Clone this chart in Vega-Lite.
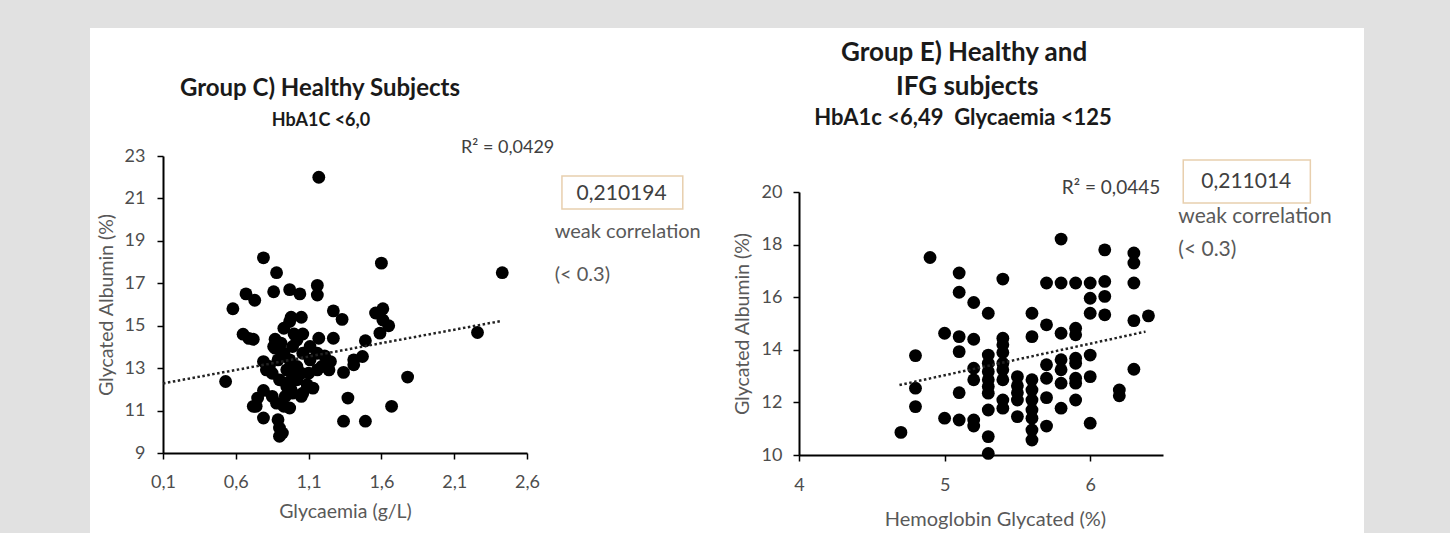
{
  "$schema": "https://vega.github.io/schema/vega-lite/v6.json",
  "width": 1274,
  "height": 505,
  "autosize": {"type": "none"},
  "padding": {"left": 90, "top": 28, "right": 86, "bottom": 0},
  "background": "#e1e1e1",
  "config": {
    "font": "Lato",
    "view": {"fill": "white", "stroke": null},
    "axis": {
      "domainColor": "#000000", "domainWidth": 2, "tickColor": "#000000", "tickWidth": 1.5, "tickSize": 6,
      "labelColor": "#4d4d4d", "labelFontSize": 18, "titleColor": "#595959", "titleFontSize": 19.5,
      "titleFontWeight": "normal", "grid": false, "labelFlush": false, "labelOverlap": false, "zindex": 1
    },
    "text": {"font": "Lato"}
  },
  "datasets": {
    "left": [
      {"x":1.17,"y":22.0},{"x":0.79,"y":18.2},{"x":0.88,"y":17.5},{"x":1.6,"y":17.95},{"x":2.43,"y":17.5},
      {"x":0.58,"y":15.8},{"x":0.67,"y":16.5},{"x":0.73,"y":16.2},{"x":0.86,"y":16.6},{"x":0.97,"y":16.7},
      {"x":1.04,"y":16.5},{"x":1.16,"y":16.9},{"x":1.16,"y":16.45},{"x":0.98,"y":15.4},{"x":1.05,"y":15.4},
      {"x":1.27,"y":15.7},{"x":1.33,"y":15.3},{"x":1.56,"y":15.6},{"x":1.61,"y":15.8},{"x":1.61,"y":15.27},
      {"x":1.65,"y":15.0},{"x":1.59,"y":14.65},{"x":2.26,"y":14.68},{"x":0.65,"y":14.6},{"x":0.69,"y":14.4},
      {"x":0.72,"y":14.36},{"x":0.87,"y":14.36},{"x":0.87,"y":13.94},{"x":0.93,"y":14.88},{"x":0.97,"y":15.2},
      {"x":1.0,"y":14.61},{"x":1.06,"y":14.61},{"x":1.17,"y":14.41},{"x":1.27,"y":14.41},{"x":1.49,"y":14.29},
      {"x":1.16,"y":13.7},{"x":1.21,"y":13.58},{"x":1.11,"y":13.39},{"x":1.19,"y":13.08},{"x":1.24,"y":12.92},
      {"x":0.79,"y":13.31},{"x":0.83,"y":13.08},{"x":0.85,"y":12.76},{"x":0.89,"y":13.39},{"x":0.93,"y":13.7},
      {"x":0.95,"y":12.92},{"x":0.97,"y":13.39},{"x":1.02,"y":13.08},{"x":1.05,"y":12.76},{"x":1.06,"y":13.7},
      {"x":1.11,"y":14.02},{"x":1.1,"y":12.76},{"x":0.9,"y":12.45},{"x":0.97,"y":12.37},{"x":1.02,"y":12.45},
      {"x":1.09,"y":12.22},{"x":1.13,"y":12.06},{"x":0.98,"y":11.98},{"x":1.05,"y":11.67},{"x":0.79,"y":11.95},
      {"x":0.75,"y":11.59},{"x":0.74,"y":11.2},{"x":0.79,"y":10.65},{"x":0.88,"y":11.35},{"x":0.93,"y":11.2},
      {"x":0.97,"y":11.12},{"x":0.89,"y":10.57},{"x":0.9,"y":10.18},{"x":0.9,"y":9.79},{"x":0.92,"y":9.94},
      {"x":1.34,"y":12.8},{"x":1.41,"y":13.39},{"x":1.41,"y":13.16},{"x":1.47,"y":13.55},{"x":1.37,"y":11.59},
      {"x":1.34,"y":10.5},{"x":1.49,"y":10.5},{"x":1.67,"y":11.2},{"x":1.78,"y":12.58},{"x":0.53,"y":12.37},
      {"x":0.86,"y":14.02},{"x":0.91,"y":14.18},{"x":0.99,"y":14.02},{"x":1.02,"y":14.33},{"x":0.81,"y":12.92},
      {"x":0.99,"y":12.92},{"x":0.95,"y":12.14},{"x":1.06,"y":11.82},{"x":0.94,"y":11.67},{"x":1.25,"y":13.31},
      {"x":1.16,"y":12.92},{"x":0.99,"y":11.82},{"x":0.85,"y":11.67},{"x":0.72,"y":11.2}
    ],
    "leftTrend": [{"x":0.1,"y":12.28},{"x":2.43,"y":15.23}],
    "right": [
      {"x":4.7,"y":10.86},{"x":4.8,"y":13.78},{"x":4.8,"y":12.54},{"x":4.8,"y":11.84},{"x":4.9,"y":17.51},
      {"x":5.0,"y":14.63},{"x":5.0,"y":11.4},{"x":5.1,"y":16.92},{"x":5.1,"y":16.19},{"x":5.1,"y":14.5},
      {"x":5.1,"y":13.93},{"x":5.1,"y":12.37},{"x":5.1,"y":11.33},{"x":5.2,"y":15.8},{"x":5.2,"y":14.4},
      {"x":5.2,"y":13.3},{"x":5.2,"y":12.86},{"x":5.2,"y":11.33},{"x":5.2,"y":11.1},{"x":5.3,"y":15.39},
      {"x":5.3,"y":13.8},{"x":5.3,"y":13.49},{"x":5.3,"y":13.17},{"x":5.3,"y":12.86},{"x":5.3,"y":12.6},
      {"x":5.3,"y":12.35},{"x":5.3,"y":11.71},{"x":5.3,"y":10.7},{"x":5.3,"y":10.06},{"x":5.4,"y":16.69},
      {"x":5.4,"y":14.44},{"x":5.4,"y":14.19},{"x":5.4,"y":13.9},{"x":5.4,"y":13.49},{"x":5.4,"y":13.24},
      {"x":5.4,"y":12.86},{"x":5.4,"y":12.09},{"x":5.4,"y":11.78},{"x":5.5,"y":12.98},{"x":5.5,"y":12.63},
      {"x":5.5,"y":12.37},{"x":5.5,"y":12.09},{"x":5.5,"y":11.46},{"x":5.6,"y":15.39},{"x":5.6,"y":14.5},
      {"x":5.6,"y":12.86},{"x":5.6,"y":12.47},{"x":5.6,"y":12.09},{"x":5.6,"y":11.71},{"x":5.6,"y":11.4},
      {"x":5.6,"y":10.95},{"x":5.6,"y":10.57},{"x":5.7,"y":16.54},{"x":5.7,"y":14.95},{"x":5.7,"y":13.43},
      {"x":5.7,"y":12.92},{"x":5.7,"y":12.18},{"x":5.7,"y":11.1},{"x":5.8,"y":18.21},{"x":5.8,"y":16.54},
      {"x":5.8,"y":14.63},{"x":5.8,"y":13.62},{"x":5.8,"y":13.24},{"x":5.8,"y":12.73},{"x":5.8,"y":11.78},
      {"x":5.9,"y":16.54},{"x":5.9,"y":14.82},{"x":5.9,"y":14.57},{"x":5.9,"y":13.68},{"x":5.9,"y":13.49},
      {"x":5.9,"y":12.92},{"x":5.9,"y":12.73},{"x":5.9,"y":12.09},{"x":6.0,"y":16.54},{"x":6.0,"y":15.96},
      {"x":6.0,"y":15.39},{"x":6.0,"y":13.8},{"x":6.0,"y":12.98},{"x":6.0,"y":11.21},{"x":6.1,"y":17.8},
      {"x":6.1,"y":16.6},{"x":6.1,"y":16.03},{"x":6.1,"y":15.33},{"x":6.2,"y":12.47},{"x":6.2,"y":12.25},
      {"x":6.3,"y":17.68},{"x":6.3,"y":17.3},{"x":6.3,"y":16.54},{"x":6.3,"y":15.11},{"x":6.3,"y":13.26},
      {"x":6.4,"y":15.29}
    ],
    "rightTrend": [{"x":4.69,"y":12.66},{"x":6.38,"y":14.69}],
    "one": [{}]
  },
  "layer": [
    {
      "data": {"name": "left"},
      "mark": {"type": "circle", "size": 165, "color": "#000000", "opacity": 1},
      "encoding": {
        "x": {"field": "x", "type": "quantitative",
              "scale": {"domain": [0.1, 2.6], "range": [73, 437], "nice": false, "zero": false},
              "axis": {"orient": "bottom", "offset": -80, "values": [0.1, 0.6, 1.1, 1.6, 2.1, 2.6],
                       "labelExpr": "replace(format(datum.value, '.1f'), '.', ',')",
                       "title": "Glycaemia (g/L)", "labelPadding": 14, "titlePadding": 11}},
        "y": {"field": "y", "type": "quantitative",
              "scale": {"domain": [9, 23], "range": [425, 128], "nice": false, "zero": false},
              "axis": {"orient": "left", "offset": -73, "values": [9, 11, 13, 15, 17, 19, 21, 23],
                       "title": "Glycated Albumin (%)", "labelPadding": 12, "titlePadding": 8}}
      }
    },
    {
      "data": {"name": "leftTrend"},
      "mark": {"type": "line", "color": "#222222", "strokeWidth": 2.5, "strokeDash": [2.5, 2.5]},
      "encoding": {
        "x": {"field": "x", "type": "quantitative", "scale": {"domain": [0.1, 2.6], "range": [73, 437], "nice": false, "zero": false}, "axis": null},
        "y": {"field": "y", "type": "quantitative", "scale": {"domain": [9, 23], "range": [425, 128], "nice": false, "zero": false}, "axis": null}
      }
    },
    {
      "data": {"name": "one"},
      "mark": {"type": "rect", "fill": "white", "stroke": "#e8cfae", "strokeWidth": 1.5},
      "encoding": {
        "x": {"datum": 2.84, "type": "quantitative", "scale": {"domain": [0.1, 2.6], "range": [73, 437], "nice": false, "zero": false}, "axis": null},
        "x2": {"datum": 3.67},
        "y": {"datum": 22.06, "type": "quantitative", "scale": {"domain": [9, 23], "range": [425, 128], "nice": false, "zero": false}, "axis": null},
        "y2": {"datum": 20.5}
      }
    },
    {
      "data": {"name": "one"},
      "mark": {"type": "text", "fontSize": 24, "fontWeight": "bold", "color": "#1a1a1a", "align": "center", "baseline": "middle", "text": "Group C) Healthy Subjects"},
      "encoding": {
        "x": {"datum": 1.178, "type": "quantitative", "scale": {"domain": [0.1, 2.6], "range": [73, 437], "nice": false, "zero": false}, "axis": null},
        "y": {"datum": 26.16, "type": "quantitative", "scale": {"domain": [9, 23], "range": [425, 128], "nice": false, "zero": false}, "axis": null}
      }
    },
    {
      "data": {"name": "one"},
      "mark": {"type": "text", "fontSize": 18, "fontWeight": "bold", "color": "#1a1a1a", "align": "center", "baseline": "middle", "text": "HbA1C <6,0"},
      "encoding": {
        "x": {"datum": 1.185, "type": "quantitative", "scale": {"domain": [0.1, 2.6], "range": [73, 437], "nice": false, "zero": false}, "axis": null},
        "y": {"datum": 24.65, "type": "quantitative", "scale": {"domain": [9, 23], "range": [425, 128], "nice": false, "zero": false}, "axis": null}
      }
    },
    {
      "data": {"name": "one"},
      "mark": {"type": "text", "fontSize": 18, "color": "#404040", "align": "left", "baseline": "middle", "text": "R² = 0,0429"},
      "encoding": {
        "x": {"datum": 2.147, "type": "quantitative", "scale": {"domain": [0.1, 2.6], "range": [73, 437], "nice": false, "zero": false}, "axis": null},
        "y": {"datum": 23.38, "type": "quantitative", "scale": {"domain": [9, 23], "range": [425, 128], "nice": false, "zero": false}, "axis": null}
      }
    },
    {
      "data": {"name": "one"},
      "mark": {"type": "text", "fontSize": 21, "color": "#404040", "align": "center", "baseline": "middle", "text": "0,210194"},
      "encoding": {
        "x": {"datum": 3.25, "type": "quantitative", "scale": {"domain": [0.1, 2.6], "range": [73, 437], "nice": false, "zero": false}, "axis": null},
        "y": {"datum": 21.2, "type": "quantitative", "scale": {"domain": [9, 23], "range": [425, 128], "nice": false, "zero": false}, "axis": null}
      }
    },
    {
      "data": {"name": "one"},
      "mark": {"type": "text", "fontSize": 20, "color": "#595959", "align": "left", "baseline": "middle", "text": "weak correlation"},
      "encoding": {
        "x": {"datum": 2.79, "type": "quantitative", "scale": {"domain": [0.1, 2.6], "range": [73, 437], "nice": false, "zero": false}, "axis": null},
        "y": {"datum": 19.42, "type": "quantitative", "scale": {"domain": [9, 23], "range": [425, 128], "nice": false, "zero": false}, "axis": null}
      }
    },
    {
      "data": {"name": "one"},
      "mark": {"type": "text", "fontSize": 20, "color": "#595959", "align": "left", "baseline": "middle", "text": "(< 0.3)"},
      "encoding": {
        "x": {"datum": 2.79, "type": "quantitative", "scale": {"domain": [0.1, 2.6], "range": [73, 437], "nice": false, "zero": false}, "axis": null},
        "y": {"datum": 17.39, "type": "quantitative", "scale": {"domain": [9, 23], "range": [425, 128], "nice": false, "zero": false}, "axis": null}
      }
    },
    {
      "data": {"name": "right"},
      "mark": {"type": "circle", "size": 165, "color": "#000000", "opacity": 1},
      "encoding": {
        "x": {"field": "x", "type": "quantitative",
              "scale": {"domain": [4, 6.5], "range": [709, 1073], "nice": false, "zero": false},
              "axis": {"orient": "bottom", "offset": -78, "values": [4, 5, 6],
                       "title": "Hemoglobin Glycated (%)", "labelPadding": 15, "titlePadding": 15, "titleFontSize": 20, "titleX": 905}},
        "y": {"field": "y", "type": "quantitative",
              "scale": {"domain": [10, 20], "range": [427, 164], "nice": false, "zero": false},
              "axis": {"orient": "left", "offset": -709, "values": [10, 12, 14, 16, 18, 20],
                       "title": "Glycated Albumin (%)", "labelPadding": 11, "titlePadding": 9}}
      }
    },
    {
      "data": {"name": "rightTrend"},
      "mark": {"type": "line", "color": "#222222", "strokeWidth": 2.5, "strokeDash": [2.5, 2.5]},
      "encoding": {
        "x": {"field": "x", "type": "quantitative", "scale": {"domain": [4, 6.5], "range": [709, 1073], "nice": false, "zero": false}, "axis": null},
        "y": {"field": "y", "type": "quantitative", "scale": {"domain": [10, 20], "range": [427, 164], "nice": false, "zero": false}, "axis": null}
      }
    },
    {
      "data": {"name": "one"},
      "mark": {"type": "rect", "fill": "white", "stroke": "#e8cfae", "strokeWidth": 1.5},
      "encoding": {
        "x": {"datum": 6.639, "type": "quantitative", "scale": {"domain": [4, 6.5], "range": [709, 1073], "nice": false, "zero": false}, "axis": null},
        "x2": {"datum": 7.512},
        "y": {"datum": 21.22, "type": "quantitative", "scale": {"domain": [10, 20], "range": [427, 164], "nice": false, "zero": false}, "axis": null},
        "y2": {"datum": 19.58}
      }
    },
    {
      "data": {"name": "one"},
      "mark": {"type": "text", "fontSize": 26, "fontWeight": "bold", "color": "#1a1a1a", "align": "center", "baseline": "middle", "text": "Group E) Healthy and"},
      "encoding": {
        "x": {"datum": 5.134, "type": "quantitative", "scale": {"domain": [4, 6.5], "range": [709, 1073], "nice": false, "zero": false}, "axis": null},
        "y": {"datum": 25.29, "type": "quantitative", "scale": {"domain": [10, 20], "range": [427, 164], "nice": false, "zero": false}, "axis": null}
      }
    },
    {
      "data": {"name": "one"},
      "mark": {"type": "text", "fontSize": 26, "fontWeight": "bold", "color": "#1a1a1a", "align": "center", "baseline": "middle", "text": "IFG subjects"},
      "encoding": {
        "x": {"datum": 5.155, "type": "quantitative", "scale": {"domain": [4, 6.5], "range": [709, 1073], "nice": false, "zero": false}, "axis": null},
        "y": {"datum": 23.99, "type": "quantitative", "scale": {"domain": [10, 20], "range": [427, 164], "nice": false, "zero": false}, "axis": null}
      }
    },
    {
      "data": {"name": "one"},
      "mark": {"type": "text", "fontSize": 22, "fontWeight": "bold", "color": "#1a1a1a", "align": "center", "baseline": "middle", "text": "HbA1c <6,49\u00a0\u00a0Glycaemia <125"},
      "encoding": {
        "x": {"datum": 5.127, "type": "quantitative", "scale": {"domain": [4, 6.5], "range": [709, 1073], "nice": false, "zero": false}, "axis": null},
        "y": {"datum": 22.81, "type": "quantitative", "scale": {"domain": [10, 20], "range": [427, 164], "nice": false, "zero": false}, "axis": null}
      }
    },
    {
      "data": {"name": "one"},
      "mark": {"type": "text", "fontSize": 19, "color": "#404040", "align": "left", "baseline": "middle", "text": "R² = 0,0445"},
      "encoding": {
        "x": {"datum": 5.805, "type": "quantitative", "scale": {"domain": [4, 6.5], "range": [709, 1073], "nice": false, "zero": false}, "axis": null},
        "y": {"datum": 20.15, "type": "quantitative", "scale": {"domain": [10, 20], "range": [427, 164], "nice": false, "zero": false}, "axis": null}
      }
    },
    {
      "data": {"name": "one"},
      "mark": {"type": "text", "fontSize": 21, "color": "#404040", "align": "center", "baseline": "middle", "text": "0,211014"},
      "encoding": {
        "x": {"datum": 7.072, "type": "quantitative", "scale": {"domain": [4, 6.5], "range": [709, 1073], "nice": false, "zero": false}, "axis": null},
        "y": {"datum": 20.38, "type": "quantitative", "scale": {"domain": [10, 20], "range": [427, 164], "nice": false, "zero": false}, "axis": null}
      }
    },
    {
      "data": {"name": "one"},
      "mark": {"type": "text", "fontSize": 21, "color": "#595959", "align": "left", "baseline": "middle", "text": "weak correlation"},
      "encoding": {
        "x": {"datum": 6.605, "type": "quantitative", "scale": {"domain": [4, 6.5], "range": [709, 1073], "nice": false, "zero": false}, "axis": null},
        "y": {"datum": 19.05, "type": "quantitative", "scale": {"domain": [10, 20], "range": [427, 164], "nice": false, "zero": false}, "axis": null}
      }
    },
    {
      "data": {"name": "one"},
      "mark": {"type": "text", "fontSize": 21, "color": "#595959", "align": "left", "baseline": "middle", "text": "(< 0.3)"},
      "encoding": {
        "x": {"datum": 6.605, "type": "quantitative", "scale": {"domain": [4, 6.5], "range": [709, 1073], "nice": false, "zero": false}, "axis": null},
        "y": {"datum": 17.79, "type": "quantitative", "scale": {"domain": [10, 20], "range": [427, 164], "nice": false, "zero": false}, "axis": null}
      }
    }
  ],
  "resolve": {"scale": {"x": "independent", "y": "independent"}, "axis": {"x": "independent", "y": "independent"}}
}
